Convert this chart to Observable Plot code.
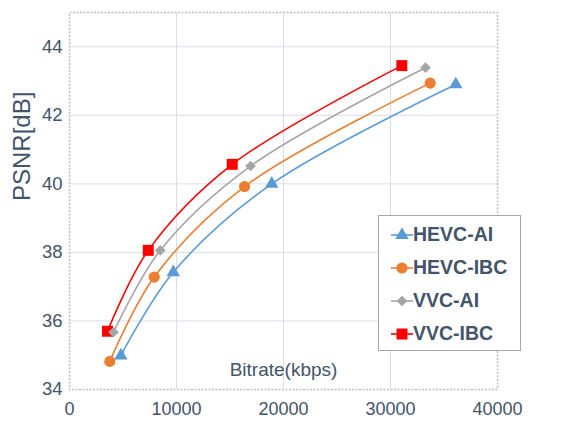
<!DOCTYPE html>
<html>
<head>
<meta charset="utf-8">
<script src="https://cdn.jsdelivr.net/npm/d3@7"></script>
<script src="https://cdn.jsdelivr.net/npm/@observablehq/plot@0.6"></script>
<style>
  html, body { margin: 0; padding: 0; background: #fff; }
  #wrap { position: relative; width: 583px; height: 421px; font-family: "Liberation Sans", Arial, sans-serif; }
  #legend { position: absolute; left: 378px; top: 215px; width: 143px; height: 136px; border: 1px solid #a6a6a6; background: #fff; box-sizing: border-box; padding-top: 2px; }
  .row { display: flex; align-items: center; height: 33px; padding-left: 12px; }
  .row span { font-weight: bold; font-size: 19.5px; color: #44546a; margin-left: 0px; }
</style>
</head>
<body>
<div id="wrap"></div>
<script>
const seriesNames = ["HEVC-AI", "HEVC-IBC", "VVC-AI", "VVC-IBC"];
const seriesColors = ["#5b9bd5", "#ed7d31", "#a5a5a5", "#ff0000"];
const seriesSymbols = ["triangle", "circle", "diamond2", "square"];
const symbolRadius = [5, 5.6, 4.8, 6.2];

const hevcAiBitrate = [4800, 9700, 18900, 36100];
const hevcAiPsnr = [34.99, 37.42, 40.0, 42.9];
const hevcIbcBitrate = [3770, 7920, 16360, 33710];
const hevcIbcPsnr = [34.82, 37.28, 39.92, 42.94];
const vvcAiBitrate = [4110, 8480, 16920, 33270];
const vvcAiPsnr = [35.67, 38.06, 40.52, 43.39];
const vvcIbcBitrate = [3550, 7360, 15210, 31060];
const vvcIbcPsnr = [35.7, 38.06, 40.57, 43.45];

const xTicks = [0, 10000, 20000, 30000, 40000];
const yTicks = [34, 36, 38, 40, 42, 44];

const bitrates = [hevcAiBitrate, hevcIbcBitrate, vvcAiBitrate, vvcIbcBitrate];
const psnrs = [hevcAiPsnr, hevcIbcPsnr, vvcAiPsnr, vvcIbcPsnr];
const data = seriesNames.flatMap((s, i) => bitrates[i].map((b, j) => ({series: s, bitrate: b, psnr: psnrs[i][j], size: symbolRadius[i]})));

const chart = Plot.plot({
  width: 583,
  height: 421,
  marginLeft: 69,
  marginRight: 86,
  marginTop: 12,
  marginBottom: 32,
  style: {fontFamily: "'Liberation Sans', Arial, sans-serif", background: "#fff", overflow: "visible"},
  x: {domain: [0, 40000], ticks: xTicks, tickFormat: d => String(d), label: null},
  y: {domain: [34, 45], ticks: yTicks, label: null},
  r: {type: "identity"},
  color: {domain: seriesNames, range: seriesColors},
  symbol: {domain: seriesNames, range: seriesSymbols},
  marks: [
    Plot.gridX(xTicks.slice(1, -1), {stroke: "#d9dde7", strokeOpacity: 1, strokeWidth: 1}),
    Plot.gridY(yTicks.slice(1), {stroke: "#d9dde7", strokeOpacity: 1, strokeWidth: 1}),
    Plot.frame({stroke: "#c0c0c0", strokeDasharray: "2,1.5", strokeWidth: 1.5}),
    Plot.axisX({ticks: xTicks, tickSize: 0, tickPadding: 13, fontSize: 18, fill: "#44546a", tickFormat: d => String(d), label: null}),
    Plot.axisY({ticks: yTicks, tickSize: 0, tickPadding: 7, fontSize: 18.5, fill: "#44546a", label: null}),
    Plot.text(["PSNR[dB]"], {frameAnchor: "left", dx: -47, rotate: -90, fontSize: 24, fill: "#44546a"}),
    Plot.text(["Bitrate(kbps)"], {frameAnchor: "bottom", dy: -14, fontSize: 19, fill: "#44546a"}),
    Plot.line(data, {x: "bitrate", y: "psnr", z: "series", stroke: "series", strokeWidth: 1.6, curve: "catmull-rom"}),
    Plot.dot(data, {x: "bitrate", y: "psnr", fill: "series", symbol: "series", r: "size", stroke: "none"})
  ]
});

const wrap = document.getElementById("wrap");
wrap.appendChild(chart);

const symMap = {triangle: d3.symbolTriangle, circle: d3.symbolCircle, diamond2: d3.symbolDiamond2, square: d3.symbolSquare};
const legend = document.createElement("div");
legend.id = "legend";
seriesNames.forEach((name, i) => {
  const row = document.createElement("div");
  row.className = "row";
  const svg = d3.create("svg").attr("width", 22).attr("height", 16);
  svg.append("line").attr("x1", 0).attr("x2", 22).attr("y1", 8).attr("y2", 8)
    .attr("stroke", seriesColors[i]).attr("stroke-width", 1.6);
  const r = symbolRadius[i];
  svg.append("path").attr("d", d3.symbol(symMap[seriesSymbols[i]], Math.PI * r * r)())
    .attr("transform", "translate(11,8)").attr("fill", seriesColors[i]);
  row.appendChild(svg.node());
  const span = document.createElement("span");
  span.textContent = name;
  row.appendChild(span);
  legend.appendChild(row);
});
wrap.appendChild(legend);
</script>
</body>
</html>
